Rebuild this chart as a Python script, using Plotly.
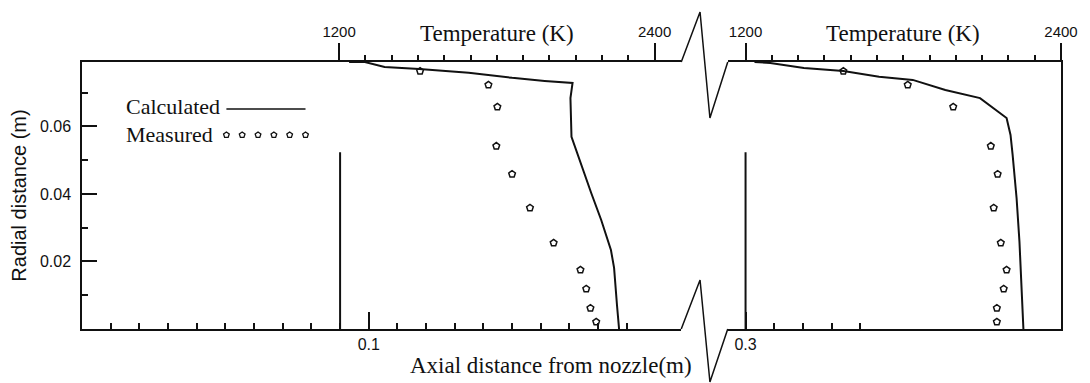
import plotly.graph_objects as go

# ---------------- data ----------------
# Left panel: profile at axial distance 0.09 m
r_calc_left = [0.0791, 0.0791, 0.0776, 0.0770, 0.0759, 0.0744, 0.0735, 0.0729, 0.0684,
               0.0569, 0.0403, 0.0323, 0.0234, 0.0181, 0.0071, 0.0]
T_calc_left = [1238, 1298, 1373, 1505, 1693, 1858, 1982, 2088, 2080,
               2084, 2159, 2197, 2234, 2246, 2257, 2265]

# Right panel: profile at axial distance 0.3 m
r_calc_right = [0.0791, 0.0788, 0.0773, 0.0764, 0.0747, 0.0738, 0.0708, 0.0684, 0.0625,
                0.0575, 0.0516, 0.0388, 0.0258, 0.0121, 0.0]
T_calc_right = [1234, 1294, 1422, 1572, 1708, 1836, 1960, 2092, 2193,
                2208, 2216, 2231, 2242, 2250, 2257]

r_meas = [0.0764, 0.0723, 0.0658, 0.0542, 0.0459, 0.0359, 0.0255, 0.0175, 0.0119, 0.0062, 0.0021]
T_meas_left = [1508, 1768, 1802, 1798, 1858, 1926, 2016, 2118, 2140, 2156, 2178]
T_meas_right = [1572, 1817, 1990, 2133, 2159, 2144, 2171, 2193, 2182, 2156, 2156]

axial_positions = [0.09, 0.3]
station_line_top = 0.0524

y_ticks = [0.02, 0.04, 0.06]
y_minor = [0.01, 0.03, 0.05, 0.07]
temp_ticks = [1200, 2400]
temp_minor = list(range(1300, 2400, 100))
axial_left_ticks = [0.1]
axial_left_minor = [0.01, 0.02, 0.03, 0.04, 0.05, 0.06, 0.07, 0.08, 0.09,
                    0.11, 0.12, 0.13, 0.14, 0.15, 0.16, 0.17, 0.18, 0.19]
axial_right_ticks = [0.3]
axial_right_minor = [0.31, 0.32, 0.33, 0.34]

INK = "#111111"
SERIF = "Liberation Serif"
SANS = "Liberation Sans"

fig = go.Figure()

# station lines (axial positions of the profiles)
fig.add_trace(go.Scatter(x=[axial_positions[0]] * 2, y=[0, station_line_top], mode="lines",
                         line=dict(color=INK, width=2), xaxis="x", yaxis="y", hoverinfo="skip"))
fig.add_trace(go.Scatter(x=[axial_positions[1]] * 2, y=[0, station_line_top], mode="lines",
                         line=dict(color=INK, width=2), xaxis="x2", yaxis="y2", hoverinfo="skip"))

# profiles
fig.add_trace(go.Scatter(x=T_calc_left, y=r_calc_left, mode="lines",
                         line=dict(color=INK, width=2), xaxis="x3", yaxis="y", cliponaxis=False))
fig.add_trace(go.Scatter(x=T_meas_left, y=r_meas, mode="markers",
                         marker=dict(symbol="pentagon-open", size=7, color=INK, line=dict(width=1.5)),
                         xaxis="x6", yaxis="y", cliponaxis=False))
fig.add_trace(go.Scatter(x=T_calc_right, y=r_calc_right, mode="lines",
                         line=dict(color=INK, width=2), xaxis="x4", yaxis="y2", cliponaxis=False))
fig.add_trace(go.Scatter(x=T_meas_right, y=r_meas, mode="markers",
                         marker=dict(symbol="pentagon-open", size=7, color=INK, line=dict(width=1.5)),
                         xaxis="x7", yaxis="y2", cliponaxis=False))

# legend (decoration on a hidden full-area axis pair)
leg_marker_x = [0.1475, 0.1636, 0.1798, 0.1960, 0.2121, 0.2283]
fig.add_trace(go.Scatter(x=[0.1475, 0.2283], y=[0.824, 0.824], mode="lines",
                         line=dict(color=INK, width=1.5), xaxis="x5", yaxis="y5", cliponaxis=False))
fig.add_trace(go.Scatter(x=leg_marker_x, y=[0.7266] * len(leg_marker_x), mode="markers",
                         marker=dict(symbol="pentagon-open", size=6, color=INK, line=dict(width=1.3)),
                         xaxis="x5", yaxis="y5", cliponaxis=False))

L_DOM = [0.0, 0.6121]
R_DOM = [0.6596, 1.0]
Y_RANGE = [0, 0.0791]

axis_common = dict(showgrid=False, zeroline=False, linecolor=INK, linewidth=1.5,
                   tickcolor=INK, tickwidth=1.5)


def temp_base(domain, anchor):
    return dict(domain=domain, range=[1200, 2400], anchor=anchor, side="top",
                showline=False, ticks="", showticklabels=False,
                showgrid=False, zeroline=False)


def temp_ticks_axis(base, anchor):
    return dict(overlaying=base, range=[1200, 2400], anchor=anchor, side="top",
                showline=True, ticks="outside", ticklen=17, tickmode="array",
                tickvals=temp_ticks, ticktext=[str(v) for v in temp_ticks],
                tickfont=dict(family=SANS, size=15, color=INK),
                minor=dict(tickmode="array", tickvals=temp_minor, ticks="outside",
                           ticklen=5, tickcolor=INK, tickwidth=1.5),
                **axis_common)


fig.update_layout(
    width=1090, height=383,
    margin=dict(l=82, r=18, t=62, b=54),
    paper_bgcolor="white", plot_bgcolor="rgba(0,0,0,0)",
    showlegend=False,
    xaxis=dict(domain=L_DOM, range=[0, 0.20897], anchor="y", showline=True, mirror=True,
               ticks="inside", ticklen=17, tickmode="array", tickvals=axial_left_ticks,
               ticktext=["0.1"], tickfont=dict(family=SANS, size=16, color=INK),
               minor=dict(tickmode="array", tickvals=axial_left_minor, ticks="inside",
                          ticklen=6, tickcolor=INK, tickwidth=1.5),
               **axis_common),
    xaxis2=dict(domain=R_DOM, range=[0.29379, 0.41], anchor="y2", showline=True, mirror=True,
                ticks="inside", ticklen=17, tickmode="array", tickvals=axial_right_ticks,
                ticktext=["0.3"], tickfont=dict(family=SANS, size=16, color=INK),
                minor=dict(tickmode="array", tickvals=axial_right_minor, ticks="inside",
                           ticklen=6, tickcolor=INK, tickwidth=1.5),
                **axis_common),
    xaxis3=temp_base([0.26263, 0.58485], "y"),
    xaxis4=temp_base([0.67778, 1.0], "y2"),
    xaxis6=temp_ticks_axis("x3", "y"),
    xaxis7=temp_ticks_axis("x4", "y2"),
    xaxis5=dict(domain=[0, 1], range=[0, 1], anchor="y5", visible=False),
    yaxis=dict(domain=[0, 1], range=Y_RANGE, anchor="x", showline=True,
               ticks="inside", ticklen=15, tickmode="array", tickvals=y_ticks,
               ticktext=["0.02", "0.04", "0.06"], ticklabelstandoff=6,
               tickfont=dict(family=SANS, size=16, color=INK),
               minor=dict(tickmode="array", tickvals=y_minor, ticks="inside",
                          ticklen=6, tickcolor=INK, tickwidth=1.5),
               title=dict(text="Radial distance (m)", font=dict(family=SANS, size=20, color=INK),
                          standoff=8),
               **axis_common),
    yaxis2=dict(domain=[0, 1], range=Y_RANGE, anchor="x2", side="right", showline=True,
                ticks="", showticklabels=False, **axis_common),
    yaxis5=dict(domain=[0, 1], range=[0, 1], anchor="x5", visible=False),
)

# axis titles and legend text
fig.add_annotation(text="Temperature (K)", xref="x3 domain", x=0.5, yref="paper", y=1.1086,
                   showarrow=False, yanchor="middle", font=dict(family=SERIF, size=23, color=INK))
fig.add_annotation(text="Temperature (K)", xref="x4 domain", x=0.5, yref="paper", y=1.1086,
                   showarrow=False, yanchor="middle", font=dict(family=SERIF, size=23, color=INK))
fig.add_annotation(text="Axial distance from nozzle(m)", xref="paper", x=0.4788, yref="paper",
                   y=-0.135, showarrow=False, yanchor="middle",
                   font=dict(family=SERIF, size=23, color=INK))
fig.add_annotation(text="Calculated", xref="paper", x=0.0434, xanchor="left", yref="paper",
                   y=0.835, yanchor="middle", showarrow=False,
                   font=dict(family=SERIF, size=22, color=INK))
fig.add_annotation(text="Measured", xref="paper", x=0.0434, xanchor="left", yref="paper",
                   y=0.7303, yanchor="middle", showarrow=False,
                   font=dict(family=SERIF, size=22, color=INK))

# axis break zigzags
zig = dict(type="path", xref="paper", yref="paper", line=dict(color=INK, width=1.5))
fig.add_shape(path="M 0.6121 1 L 0.6313 1.1873 L 0.6414 0.7903 L 0.6596 1", **zig)
fig.add_shape(path="M 0.6121 0 L 0.6313 0.1835 L 0.6414 -0.1985 L 0.6596 0", **zig)

fig.write_html("out.html")
